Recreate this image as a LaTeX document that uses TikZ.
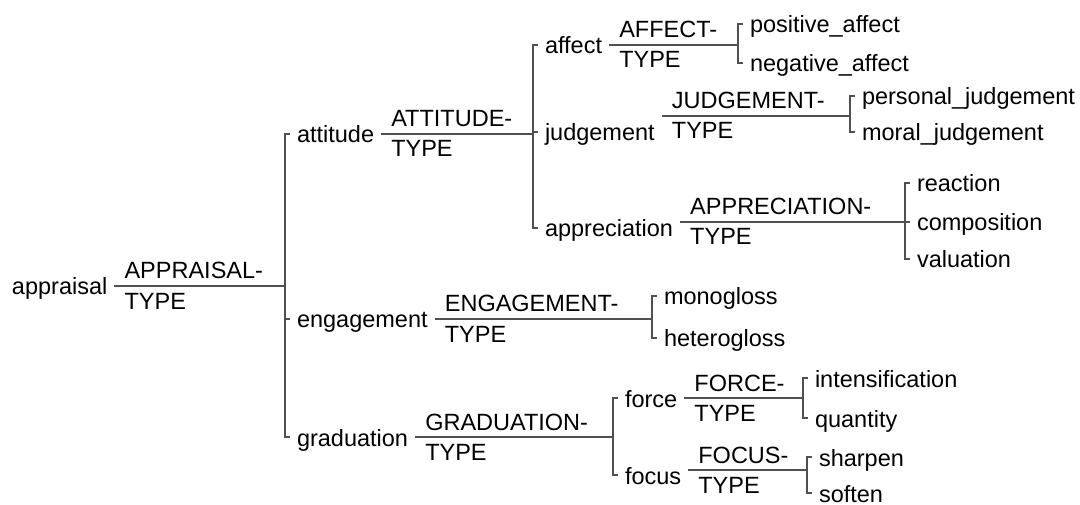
\documentclass[tikz,border=0pt]{standalone}
\usepackage{fontspec}
\setmainfont{Liberation Sans}
\definecolor{netgray}{HTML}{505050}
\tikzset{
  feat/.style={anchor=west, inner sep=0pt, outer xsep=7pt, text height=18pt, text depth=0pt},
  gate/.style={anchor=base west, inner sep=0pt},
  net/.style={draw=netgray, line width=1.5pt}
}
\begin{document}
\begin{tikzpicture}[x=1pt,y=-1pt,font=\fontsize{23.5}{28}\selectfont]
\useasboundingbox (0,0) rectangle (1080,505);

% appraisal system
\node[feat] (appraisal) at (5,286) {appraisal};
\coordinate (appraisal-sys) at (285,0);
\node[feat] (attitude) at (290,134) {attitude};
\node[feat] (engagement) at (290,319) {engagement};
\node[feat] (graduation) at (290,437) {graduation};
\coordinate (appraisal-in) at (appraisal.east);
\node[gate] (appraisal-gate) at ([xshift=10pt,yshift=7pt]appraisal-in) {APPRAISAL-};
\node[gate] (appraisal-type) at ([xshift=10pt,yshift=-23pt]appraisal-in) {TYPE};
\draw[net] (appraisal-in) -- (appraisal-in -| appraisal-sys);
\draw[net] (attitude.west) -| (appraisal-sys |- graduation.west) -- (graduation.west);
\draw[net] (engagement.west) -- (engagement.west -| appraisal-sys);

% attitude system
\coordinate (attitude-sys) at (533,0);
\node[feat] (affect) at (538,45) {affect};
\node[feat] (judgement) at (538,132) {judgement};
\node[feat] (appreciation) at (538,228) {appreciation};
\coordinate (attitude-in) at (attitude.east);
\node[gate] (attitude-gate) at ([xshift=10pt,yshift=7pt]attitude-in) {ATTITUDE-};
\node[gate] (attitude-type) at ([xshift=10pt,yshift=-23pt]attitude-in) {TYPE};
\draw[net] (attitude-in) -- (attitude-in -| attitude-sys);
\draw[net] (affect.west) -| (attitude-sys |- appreciation.west) -- (appreciation.west);
\draw[net] (judgement.west) -- (judgement.west -| attitude-sys);

% affect system
\coordinate (affect-sys) at (738,0);
\node[feat] (positive) at (743,24) {positive\_affect};
\node[feat] (negative) at (743,63) {negative\_affect};
\coordinate (affect-in) at (affect.east);
\node[gate] (affect-gate) at ([xshift=10pt,yshift=7pt]affect-in) {AFFECT-};
\node[gate] (affect-type) at ([xshift=10pt,yshift=-23pt]affect-in) {TYPE};
\draw[net] (affect-in) -- (affect-in -| affect-sys);
\draw[net] (positive.west) -| (affect-sys |- negative.west) -- (negative.west);

% judgement system
\coordinate (judgement-sys) at (850,0);
\node[feat] (personal) at (855,96) {personal\_judgement};
\node[feat] (moral) at (855,132) {moral\_judgement};
\coordinate (judgement-in) at ([yshift=16pt]judgement.east);
\node[gate] (judgement-gate) at ([xshift=10pt,yshift=7pt]judgement-in) {JUDGEMENT-};
\node[gate] (judgement-type) at ([xshift=10pt,yshift=-23pt]judgement-in) {TYPE};
\draw[net] (judgement-in) -- (judgement-in -| judgement-sys);
\draw[net] (personal.west) -| (judgement-sys |- moral.west) -- (moral.west);

% appreciation system
\coordinate (appreciation-sys) at (905,0);
\node[feat] (reaction) at (910,183) {reaction};
\node[feat] (composition) at (910,222) {composition};
\node[feat] (valuation) at (910,259) {valuation};
\coordinate (appreciation-in) at ([yshift=6pt]appreciation.east);
\node[gate] (appreciation-gate) at ([xshift=10pt,yshift=7pt]appreciation-in) {APPRECIATION-};
\node[gate] (appreciation-type) at ([xshift=10pt,yshift=-23pt]appreciation-in) {TYPE};
\draw[net] (appreciation-in) -- (appreciation-in -| appreciation-sys);
\draw[net] (reaction.west) -| (appreciation-sys |- valuation.west) -- (valuation.west);
\draw[net] (composition.west) -- (composition.west -| appreciation-sys);

% engagement system
\coordinate (engagement-sys) at (652,0);
\node[feat] (monogloss) at (657,296) {monogloss};
\node[feat] (heterogloss) at (657,338) {heterogloss};
\coordinate (engagement-in) at (engagement.east);
\node[gate] (engagement-gate) at ([xshift=10pt,yshift=7pt]engagement-in) {ENGAGEMENT-};
\node[gate] (engagement-type) at ([xshift=10pt,yshift=-23pt]engagement-in) {TYPE};
\draw[net] (engagement-in) -- (engagement-in -| engagement-sys);
\draw[net] (monogloss.west) -| (engagement-sys |- heterogloss.west) -- (heterogloss.west);

% graduation system
\coordinate (graduation-sys) at (613,0);
\node[feat] (force) at (618,398) {force};
\node[feat] (focus) at (618,475) {focus};
\coordinate (graduation-in) at (graduation.east);
\node[gate] (graduation-gate) at ([xshift=10pt,yshift=7pt]graduation-in) {GRADUATION-};
\node[gate] (graduation-type) at ([xshift=10pt,yshift=-23pt]graduation-in) {TYPE};
\draw[net] (graduation-in) -- (graduation-in -| graduation-sys);
\draw[net] (force.west) -| (graduation-sys |- focus.west) -- (focus.west);

% force system
\coordinate (force-sys) at (803,0);
\node[feat] (intensification) at (808,378) {intensification};
\node[feat] (quantity) at (808,418) {quantity};
\coordinate (force-in) at (force.east);
\node[gate] (force-gate) at ([xshift=10pt,yshift=7pt]force-in) {FORCE-};
\node[gate] (force-type) at ([xshift=10pt,yshift=-23pt]force-in) {TYPE};
\draw[net] (force-in) -- (force-in -| force-sys);
\draw[net] (intensification.west) -| (force-sys |- quantity.west) -- (quantity.west);

% focus system
\coordinate (focus-sys) at (807,0);
\node[feat] (sharpen) at (812,457) {sharpen};
\node[feat] (soften) at (812,493) {soften};
\coordinate (focus-in) at ([yshift=5pt]focus.east);
\node[gate] (focus-gate) at ([xshift=10pt,yshift=7pt]focus-in) {FOCUS-};
\node[gate] (focus-type) at ([xshift=10pt,yshift=-23pt]focus-in) {TYPE};
\draw[net] (focus-in) -- (focus-in -| focus-sys);
\draw[net] (sharpen.west) -| (focus-sys |- soften.west) -- (soften.west);
\end{tikzpicture}
\end{document}
